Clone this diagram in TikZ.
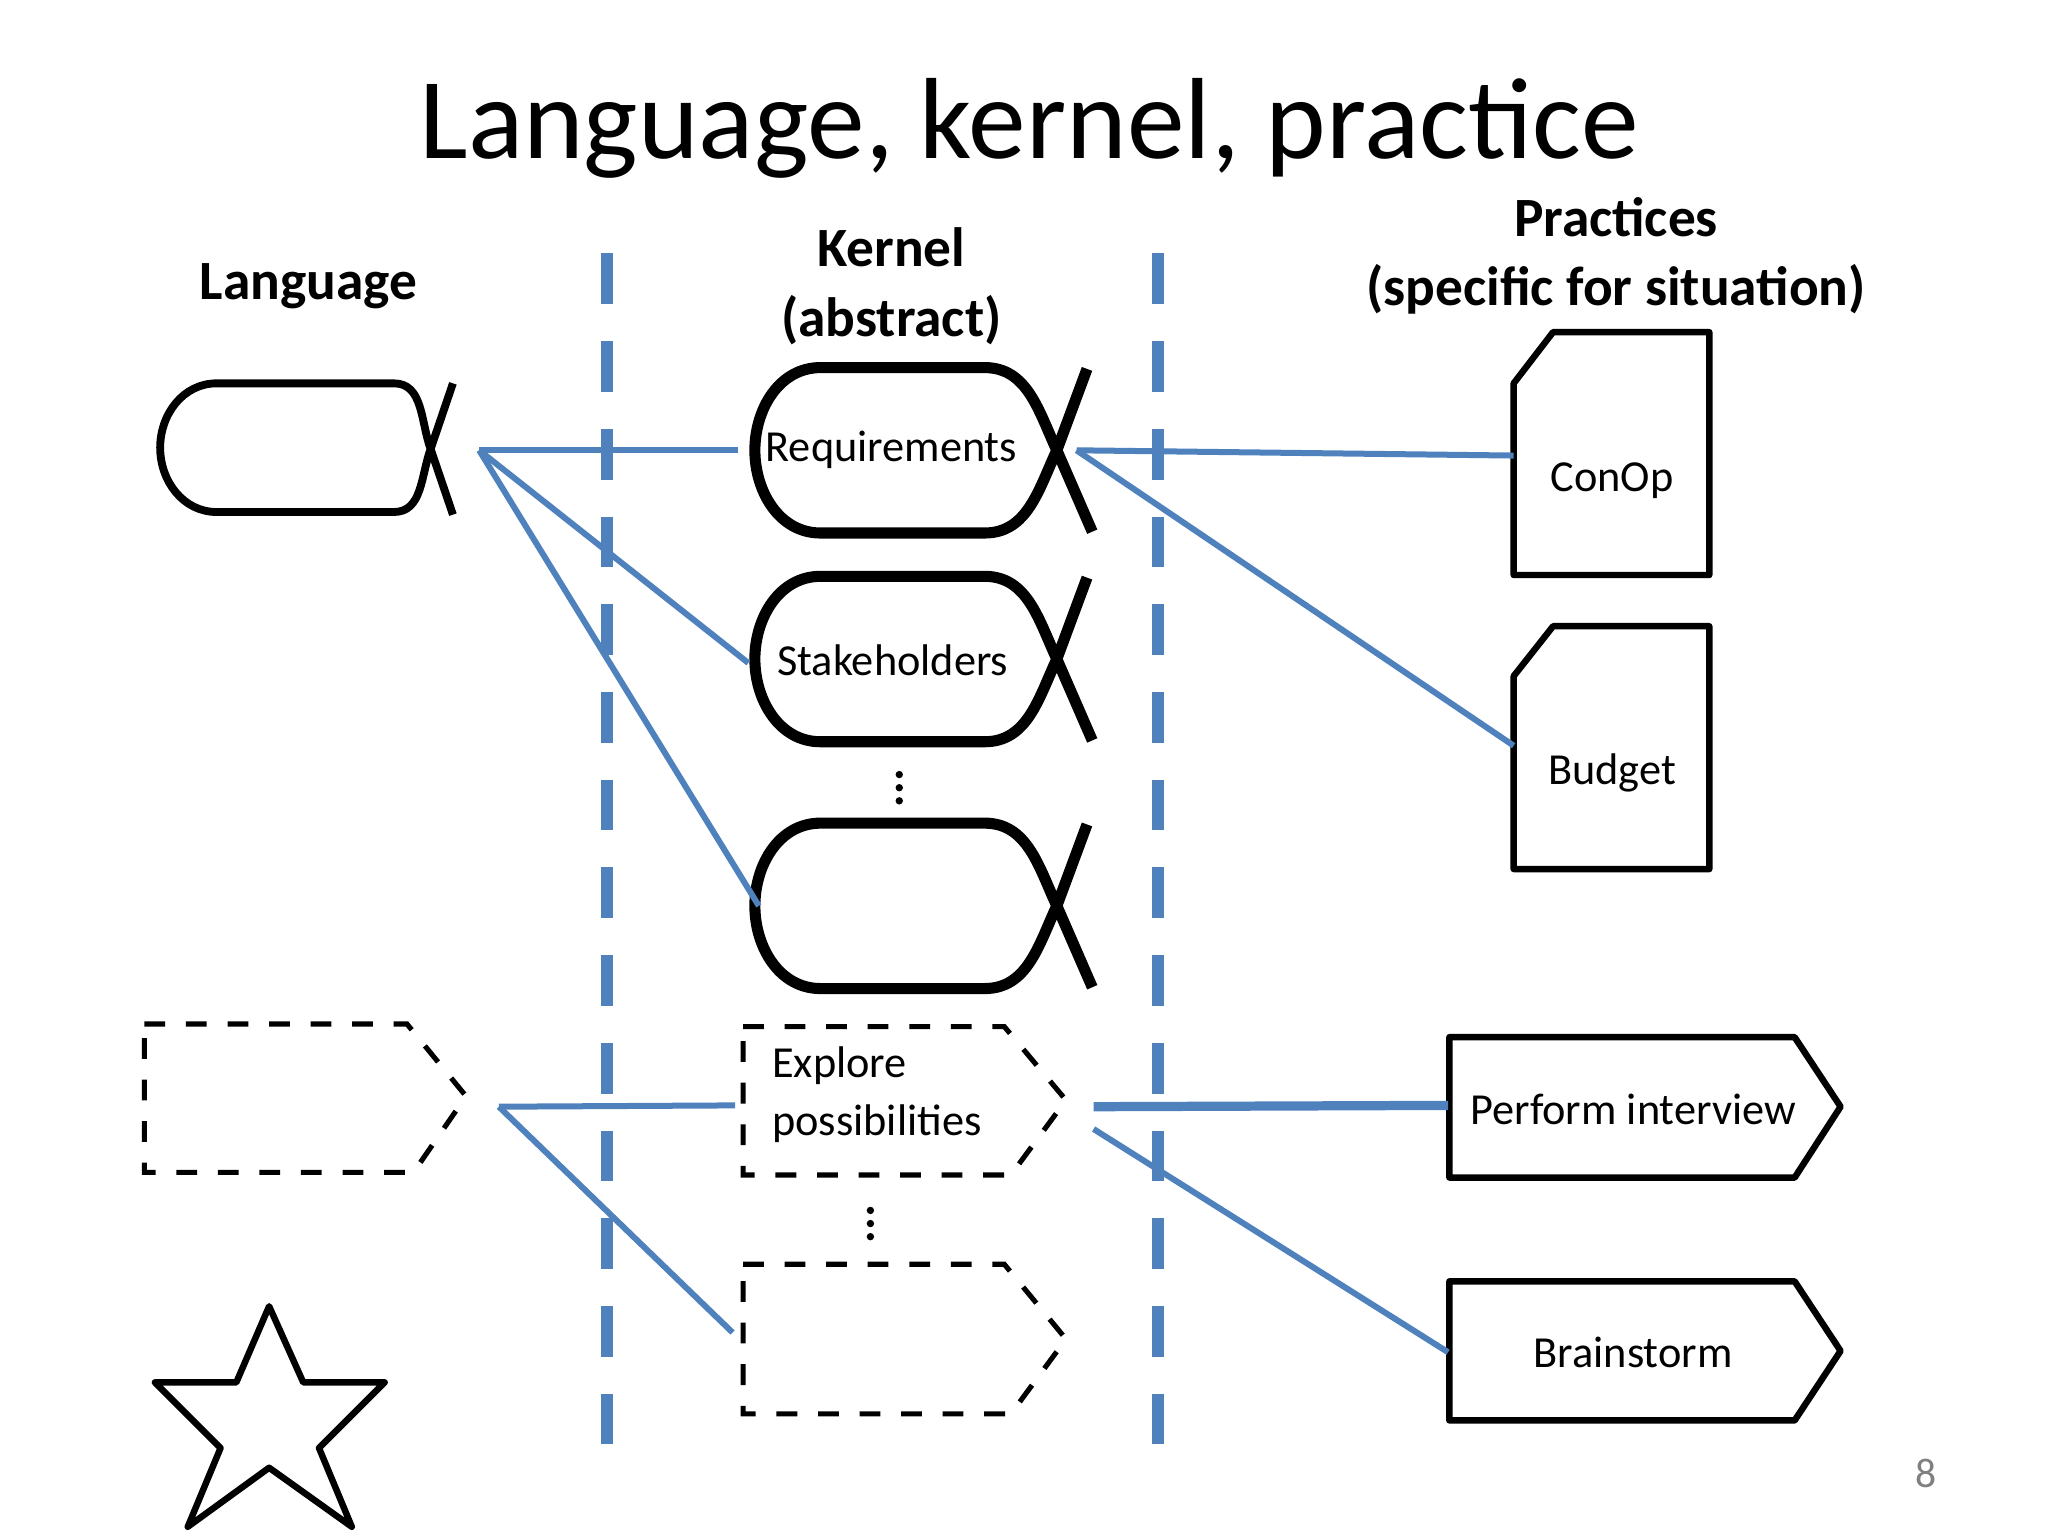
\documentclass[tikz,border=0pt]{standalone}
\usepackage{fontspec}
\setmainfont{Carlito}
\definecolor{linkblue}{RGB}{79,129,189}
\begin{document}
\begin{tikzpicture}[x=0.01cm,y=-0.01cm,
    link/.style={draw=linkblue,line width=1.3pt},
    border/.style={draw=linkblue,line width=2.6pt,dash pattern=on 11pt off 8pt},
    thing/.style={draw,line width=1.4pt,line join=round},
    alpha/.style={draw,line width=1.7pt},
    act/.style={draw,line width=1.1pt,dash pattern=on 4.5pt off 4.5pt},
    dot/.style={circle,fill,inner sep=0pt,minimum size=1.6pt},
    head/.style={font=\bfseries\fontsize{12}{15}\selectfont,align=center},
    lbl/.style={font=\fontsize{9.6}{12.5}\selectfont,align=left}]
  \useasboundingbox (0,0) rectangle (1560,1170);
  \node (title) at (784,98) {\fontsize{25}{30}\selectfont Language, kernel, practice};
  \node[head] (hlang) at (235,218) {Language};
  \node[head] (hkern) at (679,218) {Kernel\\(abstract)};
  \node[head] (hprac) at (1231,195) {Practices\\(specific for situation)};
  % borders
  \coordinate (b1t) at (462,193); \coordinate (b1b) at (462,1122);
  \coordinate (b2t) at (882,193); \coordinate (b2b) at (882,1122);
  \draw[border] (b1t) -- (b1b);
  \draw[border] (b2t) -- (b2b);
  % alphas
  \draw[alpha] (345,392) -- (328,342) to[out=110,in=0] (300,292) -- (165,292)
               to[out=180,in=90] (122,341) to[out=-90,in=180] (165,390) -- (300,390)
               to[out=0,in=-110] (328,342) -- (345,292);
  \foreach \y in {343,502,690} {
    \draw[alpha,line width=2.4pt] (832,\y+62) -- (805,\y) to[out=115,in=0] (750,\y-63)
                 -- (625,\y-63) to[out=180,in=90] (575,\y) to[out=-90,in=180] (625,\y+63)
                 -- (750,\y+63) to[out=0,in=-115] (805,\y) -- (828,\y-62);
  }
  \node[lbl] (req) at (679,343) {Requirements};
  \node[lbl] (stake) at (680,503) {Stakeholders};
  \foreach \d in {-10,0,10} \node[dot] at (685,600+\d) {};
  % activity spaces
  \draw[act] (110,780) -- (310,780) -- (355,835) -- (315,893) -- (110,893) -- cycle;
  \draw[act] (566,782) -- (765,782) -- (812,838) -- (770,895) -- (566,895) -- cycle;
  \draw[act] (566,963) -- (765,963) -- (812,1020) -- (770,1077) -- (566,1077) -- cycle;
  \node[lbl] (explore) at (668,834) {Explore\\possibilities};
  \foreach \d in {-10,0,10} \node[dot] at (663,932+\d) {};
  % star
  \draw[thing] (205,995) -- (231,1053) -- (293,1053) -- (243,1103) -- (268,1163)
    -- (205,1118) -- (143,1163) -- (168,1103) -- (118,1053) -- (180,1053) -- cycle;
  % practices
  \draw[thing] (1153,292) -- (1183,253) -- (1302,253) -- (1302,438) -- (1153,438) -- cycle;
  \draw[thing] (1153,515) -- (1183,477) -- (1302,477) -- (1302,662) -- (1153,662) -- cycle;
  \node[lbl] (conop) at (1228,366) {ConOp};
  \node[lbl] (budget) at (1228,589) {Budget};
  \draw[thing] (1104,790) -- (1367,790) -- (1402,843) -- (1367,897) -- (1104,897) -- cycle;
  \draw[thing] (1104,976) -- (1367,976) -- (1402,1029) -- (1367,1082) -- (1104,1082) -- cycle;
  \node[lbl] (interview) at (1244,845) {Perform interview};
  \node[lbl] (brain) at (1244,1030) {Brainstorm};
  \node[text=gray] (page) at (1467,1122) {\fontsize{9}{11}\selectfont 8};
  % connectors
  \coordinate (lalpha) at (365,343);
  \coordinate (reqL) at (562,343);
  \coordinate (stakeL) at (570,505);
  \coordinate (thirdL) at (578,690);
  \coordinate (reqR) at (820,343);
  \coordinate (conopL) at (1153,347);
  \coordinate (budgetL) at (1153,568);
  \coordinate (lact) at (380,843);
  \coordinate (exploreL) at (560,842);
  \coordinate (lowerL) at (558,1015);
  \coordinate (exploreR) at (833,843);
  \coordinate (exploreR2) at (833,860);
  \coordinate (interviewL) at (1103,842);
  \coordinate (brainL) at (1103,1030);
  \draw[link] (lalpha) -- (reqL);
  \draw[link] (lalpha) -- (stakeL);
  \draw[link] (lalpha) -- (thirdL);
  \draw[link] (reqR) -- (conopL);
  \draw[link] (reqR) -- (budgetL);
  \draw[link] (lact) -- (exploreL);
  \draw[link] (lact) -- (lowerL);
  \draw[link,line width=2pt] (exploreR) -- (interviewL);
  \draw[link] (exploreR2) -- (brainL);
\end{tikzpicture}
\end{document}
